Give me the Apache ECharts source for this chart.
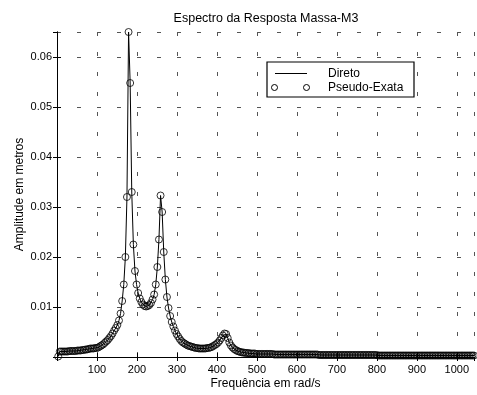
<!DOCTYPE html>
<html>
<head>
<meta charset="utf-8">
<script src="https://cdn.jsdelivr.net/npm/echarts@6/dist/echarts.min.js"></script>
<style>
  html, body { margin: 0; padding: 0; background: #fff; }
  #chart { width: 477px; height: 395px; }
</style>
</head>
<body>
<div id="chart"></div>
<script>
// frequency grid (rad/s): uniform sampling
var freqStart = 3;
var freqStep = 4;

// amplitude (m), one value per frequency sample
var amplitude = [
  0.0001, 0.0011, 0.0011, 0.0011, 0.0011, 0.0011, 0.0011, 0.0012, 0.0012, 0.0012,
  0.0012, 0.0012, 0.0013, 0.0013, 0.0013, 0.0014, 0.0014, 0.0015, 0.0015, 0.0016,
  0.0017, 0.0017, 0.0017, 0.0018, 0.0018, 0.0019, 0.0021, 0.0023, 0.0025, 0.0028,
  0.0031, 0.0034, 0.0038, 0.0042, 0.0047, 0.0053, 0.0058, 0.0064, 0.0073, 0.0087,
  0.0112, 0.0145, 0.0200, 0.0320, 0.0650, 0.0548, 0.0330, 0.0225, 0.0172, 0.0145,
  0.0128, 0.0117, 0.0110, 0.0105, 0.0102, 0.0101, 0.0102, 0.0104, 0.0108, 0.0115,
  0.0125, 0.0145, 0.0180, 0.0235, 0.0323, 0.0290, 0.0210, 0.0155, 0.0120, 0.0098,
  0.0082, 0.0070, 0.0061, 0.0053, 0.0046, 0.0041, 0.0036, 0.0032, 0.0029, 0.0027,
  0.0025, 0.0023, 0.0022, 0.0021, 0.0020, 0.0019, 0.0018, 0.0018, 0.0017, 0.0017,
  0.0017, 0.0017, 0.0017, 0.0018, 0.0018, 0.0019, 0.0020, 0.0022, 0.0024, 0.0026,
  0.0029, 0.0033, 0.0038, 0.0043, 0.0047, 0.0046, 0.0038, 0.0029, 0.0023, 0.0019,
  0.0016, 0.0014, 0.0012, 0.0011, 0.0010, 0.0009, 0.0009, 0.0008, 0.0008, 0.0008,
  0.0007, 0.0007, 0.0007, 0.0007, 0.0006, 0.0006, 0.0006, 0.0006, 0.0006, 0.0006,
  0.0006, 0.0006, 0.0006, 0.0006, 0.0006, 0.0005, 0.0005, 0.0005, 0.0005, 0.0005,
  0.0005, 0.0005, 0.0005, 0.0005, 0.0005, 0.0005, 0.0005, 0.0005, 0.0005, 0.0005,
  0.0005, 0.0005, 0.0005, 0.0005, 0.0005, 0.0005, 0.0005, 0.0005, 0.0005, 0.0005,
  0.0005, 0.0005, 0.0005, 0.0004, 0.0004, 0.0004, 0.0004, 0.0004, 0.0004, 0.0004,
  0.0004, 0.0004, 0.0004, 0.0004, 0.0004, 0.0004, 0.0004, 0.0004, 0.0004, 0.0004,
  0.0004, 0.0004, 0.0004, 0.0004, 0.0004, 0.0004, 0.0004, 0.0004, 0.0004, 0.0004,
  0.0004, 0.0004, 0.0004, 0.0004, 0.0004, 0.0004, 0.0004, 0.0004, 0.0004, 0.0004,
  0.0003, 0.0003, 0.0003, 0.0003, 0.0003, 0.0003, 0.0003, 0.0003, 0.0003, 0.0003,
  0.0003, 0.0003, 0.0003, 0.0003, 0.0003, 0.0003, 0.0003, 0.0003, 0.0003, 0.0003,
  0.0003, 0.0003, 0.0003, 0.0003, 0.0003, 0.0003, 0.0003, 0.0003, 0.0003, 0.0003,
  0.0003, 0.0003, 0.0003, 0.0003, 0.0003, 0.0003, 0.0003, 0.0003, 0.0003, 0.0003,
  0.0003, 0.0003, 0.0003, 0.0003, 0.0003, 0.0003, 0.0003, 0.0003, 0.0003, 0.0003,
  0.0003, 0.0003, 0.0003, 0.0003, 0.0003, 0.0003, 0.0003, 0.0003, 0.0003, 0.0003,
  0.0003
];

var seriesNames = ["Direto", "Pseudo-Exata"];

var points = amplitude.map(function (a, i) {
  return [freqStart + i * freqStep, a];
});

var font = "Liberation Sans, Arial, Helvetica, sans-serif";
var gridDash = { color: "#555", type: [4, 16], width: 1 };

var myChart = echarts.init(document.getElementById("chart"));

var option = {
  backgroundColor: "#fff",
  animation: false,
  textStyle: { fontFamily: font, color: "#000" },
  title: {
    text: "Espectro da Resposta Massa-M3",
    left: 266,
    top: 12,
    padding: 0,
    textAlign: "center",
    textStyle: { fontSize: 12.5, fontWeight: "normal", color: "#000", fontFamily: font },
  },
  grid: { left: 57, right: 3, top: 32, bottom: 37 },
  xAxis: [
    {
      type: "value",
      min: 0,
      max: 1043,
      interval: 100,
      name: "Frequência em rad/s",
      nameLocation: "middle",
      nameGap: 21,
      nameMoveOverlap: false,
      nameTextStyle: { fontSize: 12, color: "#000", fontFamily: font },
      axisLine: { lineStyle: { color: "#000", width: 1 } },
      axisTick: { inside: true, length: 4, lineStyle: { color: "#000" } },
      axisLabel: {
        fontSize: 11,
        color: "#000",
        margin: 7,
        showMinLabel: false,
        showMaxLabel: false,
        formatter: function (v) {
          return String(v);
        },
      },
      splitLine: { show: true, lineStyle: gridDash },
    },
    {
      type: "value",
      position: "top",
      min: 0,
      max: 1043,
      interval: 100,
      axisLine: { lineStyle: { color: "#000", width: 1 } },
      axisTick: { inside: true, length: 4, lineStyle: { color: "#000" } },
      axisLabel: { show: false },
      splitLine: { show: false },
    },
  ],
  yAxis: [
    {
      type: "value",
      min: 0,
      max: 0.065,
      interval: 0.01,
      name: "Amplitude em metros",
      nameLocation: "middle",
      nameGap: 31,
      nameMoveOverlap: false,
      nameTextStyle: { fontSize: 12, color: "#000", fontFamily: font },
      axisLine: { show: true, lineStyle: { color: "#000", width: 1 } },
      axisTick: { show: true, inside: true, length: 4, lineStyle: { color: "#000" } },
      axisLabel: {
        fontSize: 11,
        color: "#000",
        margin: 5,
        showMinLabel: false,
        showMaxLabel: false,
        formatter: function (v) {
          return v.toFixed(2);
        },
      },
      splitLine: { show: true, lineStyle: gridDash },
    },
    {
      type: "value",
      position: "right",
      min: 0,
      max: 0.065,
      interval: 0.01,
      axisLine: { show: true, lineStyle: { color: "#000", width: 1 } },
      axisTick: { show: true, inside: true, length: 4, lineStyle: { color: "#000" } },
      axisLabel: { show: false },
      splitLine: { show: false },
    },
  ],
  series: [
    {
      name: seriesNames[0],
      type: "line",
      data: points,
      showSymbol: false,
      lineStyle: { color: "#000", width: 1 },
      z: 2,
    },
    {
      name: seriesNames[1],
      type: "scatter",
      data: points,
      symbol: "circle",
      symbolSize: 7,
      clip: false,
      itemStyle: { color: "transparent", borderColor: "#000", borderWidth: 1 },
      z: 3,
    },
  ],
  graphic: [
    {
      type: "rect",
      z: 100,
      shape: { x: 267, y: 62, width: 147, height: 35 },
      style: { fill: "#fff", stroke: "#000", lineWidth: 1.2 },
    },
    {
      type: "line",
      z: 101,
      shape: { x1: 275, y1: 73.5, x2: 307, y2: 73.5 },
      style: { stroke: "#000", lineWidth: 1 },
    },
    {
      type: "circle",
      z: 101,
      shape: { cx: 274.5, cy: 87.5, r: 3 },
      style: { fill: "none", stroke: "#000", lineWidth: 1 },
    },
    {
      type: "circle",
      z: 101,
      shape: { cx: 306.5, cy: 87.5, r: 3 },
      style: { fill: "none", stroke: "#000", lineWidth: 1 },
    },
    {
      type: "text",
      z: 101,
      x: 328,
      y: 73.5,
      style: { text: seriesNames[0], font: "12px " + font, fill: "#000", verticalAlign: "middle" },
    },
    {
      type: "text",
      z: 101,
      x: 328,
      y: 87.5,
      style: { text: seriesNames[1], font: "12px " + font, fill: "#000", verticalAlign: "middle" },
    },
  ],
};

myChart.setOption(option);
</script>
</body>
</html>
